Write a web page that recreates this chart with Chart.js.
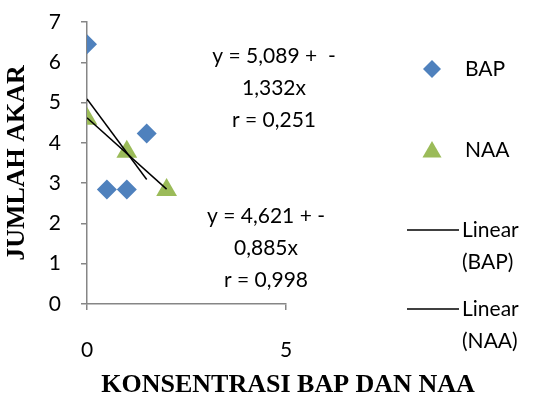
<!DOCTYPE html>
<html>
<head>
<meta charset="utf-8">
<script src="https://cdn.jsdelivr.net/npm/chart.js@4"></script>
<style>
  html, body { margin: 0; padding: 0; background: #fff; }
</style>
</head>
<body>
<canvas id="chart" width="533" height="396"></canvas>
<script>
// konsentrasi (x) dan jumlah akar (y)
const bapX = [0, 0.5, 1, 1.5];
const bapY = [6.45, 2.84, 2.84, 4.23];
const naaX = [0, 1, 2];
const naaY = [4.6, 3.78, 2.83];

// regresi linear: [intercept, slope] dan r
const bapFit = [5.089, -1.332];
const naaFit = [4.621, -0.885];
const bapR = '0,251';
const naaR = '0,998';

const xTicks = [0, 5];
const yTicks = [0, 1, 2, 3, 4, 5, 6, 7];

const AXIS = '#868686';
const BLUE = '#4f81bd';
const GREEN = '#9bbb59';
const SANS = 'Lato';
const SERIF = '"Liberation Serif"';

const fmt = v => Math.abs(v).toFixed(3).replace('.', ',');
const pts = (xs, ys) => xs.map((x, i) => ({ x, y: ys[i] }));
const trend = (fit, xs) => {
  const x0 = Math.min(...xs), x1 = Math.max(...xs);
  return [{ x: x0, y: fit[0] + fit[1] * x0 }, { x: x1, y: fit[0] + fit[1] * x1 }];
};
const eqLines = (fit, r, sep) => ['y = ' + fmt(fit[0]) + sep + '-', fmt(fit[1]) + 'x', 'r = ' + r];

function marker(ctx, style, x, y, r, color) {
  ctx.beginPath();
  if (style === 'rectRot') {
    ctx.moveTo(x - r, y); ctx.lineTo(x, y - r); ctx.lineTo(x + r, y); ctx.lineTo(x, y + r);
  } else {
    ctx.moveTo(x, y - r);
    ctx.lineTo(x + r * Math.sin(2 * Math.PI / 3), y - r * Math.cos(2 * Math.PI / 3));
    ctx.lineTo(x + r * Math.sin(4 * Math.PI / 3), y - r * Math.cos(4 * Math.PI / 3));
  }
  ctx.closePath();
  ctx.fillStyle = color;
  ctx.fill();
}

// legenda, persamaan dan judul sumbu x
const extras = {
  id: 'extras',
  afterDraw(chart) {
    const ctx = chart.ctx;
    const ds = chart.data.datasets;
    ctx.save();
    ctx.fillStyle = '#000';
    ctx.textBaseline = 'middle';
    ctx.font = '21px ' + SANS;

    ctx.textAlign = 'center';
    eqLines(bapFit, bapR, ' +  ').forEach((t, i) => ctx.fillText(t, 274, 56 + i * 32));
    eqLines(naaFit, naaR, ' + ').forEach((t, i) => ctx.fillText(t, 266, 216 + i * 32));

    ctx.textAlign = 'left';
    marker(ctx, ds[0].pointStyle, 432, 69, 9, ds[0].backgroundColor);
    marker(ctx, ds[1].pointStyle, 432, 152, 11, ds[1].backgroundColor);
    ctx.fillStyle = '#000';
    ctx.fillText(ds[0].label, 465, 69);
    ctx.fillText(ds[1].label, 465, 150);

    [[ds[2], 230], [ds[3], 309]].forEach(([d, y]) => {
      ctx.strokeStyle = d.borderColor;
      ctx.lineWidth = d.borderWidth;
      ctx.beginPath(); ctx.moveTo(407, y); ctx.lineTo(459, y); ctx.stroke();
      const parts = d.label.split(' ');
      ctx.fillText(parts[0], 462, y);
      ctx.fillText(parts[1], 462, y + 32);
    });

    ctx.textAlign = 'center';
    ctx.font = 'bold 26px ' + SERIF;
    ctx.fillText('KONSENTRASI BAP DAN NAA', 288, 385);
    ctx.restore();
  }
};

new Chart(document.getElementById('chart'), {
  type: 'scatter',
  data: {
    datasets: [{
      label: 'BAP',
      data: pts(bapX, bapY),
      pointStyle: 'rectRot',
      pointRadius: 10,
      backgroundColor: BLUE,
      borderColor: BLUE,
      borderWidth: 0,
      order: 2
    }, {
      label: 'NAA',
      data: pts(naaX, naaY),
      pointStyle: 'triangle',
      pointRadius: 12,
      backgroundColor: GREEN,
      borderColor: GREEN,
      borderWidth: 0,
      order: 2
    }, {
      label: 'Linear (BAP)',
      data: trend(bapFit, bapX),
      showLine: true,
      borderColor: '#000',
      borderWidth: 1.5,
      pointRadius: 0,
      order: 1
    }, {
      label: 'Linear (NAA)',
      data: trend(naaFit, naaX),
      showLine: true,
      borderColor: '#000',
      borderWidth: 1.5,
      pointRadius: 0,
      order: 1
    }]
  },
  options: {
    responsive: false,
    animation: false,
    layout: { padding: { top: 22, right: 247, bottom: 0, left: 0 } },
    plugins: {
      legend: { display: false },
      tooltip: { enabled: false }
    },
    scales: {
      x: {
        type: 'linear',
        min: 0,
        max: 5,
        afterBuildTicks: s => { s.ticks = xTicks.map(v => ({ value: v })); },
        afterFit: s => { s.height = 92; },
        border: { color: AXIS, width: 1.5 },
        grid: { drawOnChartArea: false, tickLength: 6, color: AXIS, lineWidth: 1.5 },
        ticks: { padding: 28, color: '#000', font: { family: SANS, size: 21 } }
      },
      y: {
        min: 0,
        max: 7,
        afterBuildTicks: s => { s.ticks = yTicks.map(v => ({ value: v })); },
        afterFit: s => { s.width = 87; s.paddingTop = 0; s.paddingBottom = 0; },
        border: { color: AXIS, width: 1.5 },
        grid: { drawOnChartArea: false, tickLength: 6, color: AXIS, lineWidth: 1.5 },
        ticks: { padding: 20, color: '#000', font: { family: SANS, size: 21 } },
        title: {
          display: true,
          text: 'JUMLAH AKAR',
          color: '#000',
          padding: { top: 2, bottom: 0 },
          font: { family: SERIF, size: 26, weight: 'bold' }
        }
      }
    }
  },
  plugins: [extras]
});
</script>
</body>
</html>
